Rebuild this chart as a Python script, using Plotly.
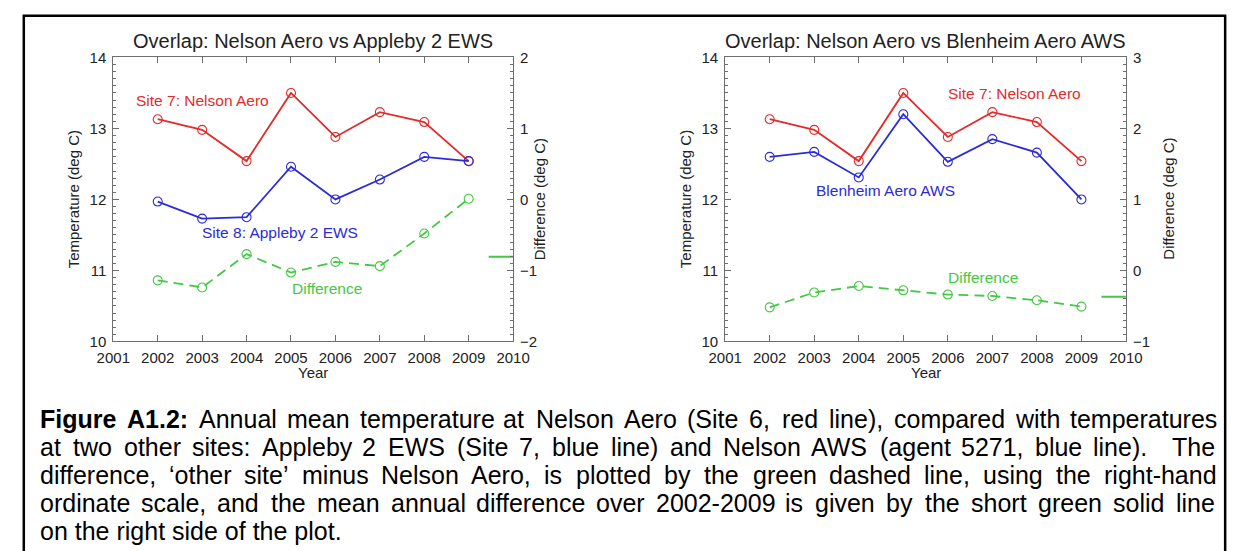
import numpy as np
import plotly.graph_objects as go

# ---------------------------------------------------------------- data
years = [2002, 2003, 2004, 2005, 2006, 2007, 2008, 2009]
year_ticks = list(range(2001, 2011))

nelson_aero = [13.13, 12.98, 12.54, 13.50, 12.88, 13.23, 13.09, 12.54]

appleby_2_ews = [11.97, 11.73, 11.75, 12.46, 12.00, 12.28, 12.60, 12.54]
diff_appleby = [-1.14, -1.24, -0.77, -1.03, -0.88, -0.94, -0.48, 0.01]

blenheim_aero_aws = [12.60, 12.67, 12.31, 13.20, 12.53, 12.85, 12.66, 12.00]
diff_blenheim = [-0.52, -0.31, -0.22, -0.28, -0.34, -0.36, -0.42, -0.51]

temp_range = [10, 14]
diff_range_appleby = [-2, 2]
diff_range_blenheim = [-1, 3]

caption_lines = [
    "Figure A1.2: Annual mean temperature at Nelson Aero (Site 6, red line), compared with temperatures",
    "at two other sites: Appleby 2 EWS (Site 7, blue line) and Nelson AWS (agent 5271, blue line).  The",
    "difference, \u2018other site\u2019 minus Nelson Aero, is plotted by the green dashed line, using the right-hand",
    "ordinate scale, and the mean annual difference over 2002-2009 is given by the short green solid line",
    "on the right side of the plot.",
]
caption_bold_words = 2  # "Figure A1.2:"

# ---------------------------------------------------------------- styling
W, H = 1248, 551
FONT = "Liberation Sans, Arial, Helvetica, sans-serif"
RED = "#e22b2b"
BLUE = "#2b2bd8"
GREEN = "#45c845"
AXIS = "#6e6e6e"
TEXT = "#222222"


def px(x):
    return x / W


def py(y):
    return 1 - y / H


# Arial / Liberation Sans advance widths (1/1000 em) for caption layout
REG = {" ": 278, ",": 278, ".": 278, ":": 278, "(": 333, ")": 333, "-": 333,
       "\u2018": 222, "\u2019": 222}
REG.update({d: 556 for d in "0123456789"})
REG.update(dict(zip("abcdefghijklmnopqrstuvwxyz",
                    [556, 556, 500, 556, 556, 278, 556, 556, 222, 222, 500, 222, 833,
                     556, 556, 556, 556, 333, 500, 278, 556, 500, 722, 500, 500, 500])))
REG.update(dict(zip("ABCDEFGHIJKLMNOPQRSTUVWXYZ",
                    [667, 667, 722, 722, 667, 611, 778, 722, 278, 500, 667, 556, 833,
                     722, 778, 667, 778, 722, 667, 611, 722, 667, 944, 667, 667, 611])))
BOLD = {"F": 611, "i": 278, "g": 611, "u": 611, "r": 389, "e": 556, "A": 722,
        "1": 556, ".": 278, "2": 556, ":": 333, " ": 278}


def text_width(s, size, bold=False):
    table = BOLD if bold else REG
    return sum(table.get(c, 556) for c in s) * size / 1000.0


fig = go.Figure()

marker = dict(symbol="circle-open", size=9, line=dict(width=1.1))

# ---------------------------------------------------------------- left panel
fig.add_trace(go.Scatter(x=years, y=nelson_aero, mode="lines+markers",
                         line=dict(color=RED, width=1.8), marker=dict(color=RED, **marker),
                         xaxis="x", yaxis="y"))
fig.add_trace(go.Scatter(x=years, y=appleby_2_ews, mode="lines+markers",
                         line=dict(color=BLUE, width=1.8), marker=dict(color=BLUE, **marker),
                         xaxis="x", yaxis="y"))
fig.add_trace(go.Scatter(x=years, y=diff_appleby, mode="lines+markers",
                         line=dict(color=GREEN, width=1.8, dash="10px,6px"),
                         marker=dict(color=GREEN, **marker), xaxis="x", yaxis="y2"))
mean_a = float(np.mean(diff_appleby))
fig.add_trace(go.Scatter(x=[2009.45, 2010], y=[mean_a, mean_a], mode="lines",
                         line=dict(color=GREEN, width=2), xaxis="x", yaxis="y2"))

# ---------------------------------------------------------------- right panel
fig.add_trace(go.Scatter(x=years, y=nelson_aero, mode="lines+markers",
                         line=dict(color=RED, width=1.8), marker=dict(color=RED, **marker),
                         xaxis="x2", yaxis="y3"))
fig.add_trace(go.Scatter(x=years, y=blenheim_aero_aws, mode="lines+markers",
                         line=dict(color=BLUE, width=1.8), marker=dict(color=BLUE, **marker),
                         xaxis="x2", yaxis="y3"))
fig.add_trace(go.Scatter(x=years, y=diff_blenheim, mode="lines+markers",
                         line=dict(color=GREEN, width=1.8, dash="10px,6px"),
                         marker=dict(color=GREEN, **marker), xaxis="x2", yaxis="y4"))
mean_b = float(np.mean(diff_blenheim))
fig.add_trace(go.Scatter(x=[2009.45, 2010], y=[mean_b, mean_b], mode="lines",
                         line=dict(color=GREEN, width=2), xaxis="x2", yaxis="y4"))

# ---------------------------------------------------------------- axes
tickfont = dict(family=FONT, size=15, color=TEXT)
plot_top, plot_bottom = 50, 343
panels = [(99, 510), (728, 1140)]


def xaxis_cfg(x0, x1, anchor):
    return dict(domain=[px(x0), px(x1)], range=[2001, 2010], tickvals=year_ticks,
                ticks="inside", ticklen=6, tickcolor=AXIS, tickwidth=1,
                showline=True, linecolor=AXIS, linewidth=1, mirror="ticks",
                showgrid=False, zeroline=False, anchor=anchor, tickfont=tickfont,
                ticklabelstandoff=3)


def yaxis_cfg(rng, anchor, side, overlaying=None):
    cfg = dict(domain=[py(plot_bottom), py(plot_top)], range=rng, dtick=1,
               ticks="inside", ticklen=6, tickcolor=AXIS, tickwidth=1,
               minor=dict(ticks="inside", ticklen=3, dtick=0.1, tickcolor=AXIS,
                          showgrid=False),
               showline=True, linecolor=AXIS, linewidth=1, mirror=False,
               showgrid=False, zeroline=False, anchor=anchor, side=side,
               tickfont=tickfont, ticklabelstandoff=3)
    if overlaying:
        cfg["overlaying"] = overlaying
    return cfg


fig.update_layout(
    xaxis=xaxis_cfg(*panels[0], "y"),
    yaxis=yaxis_cfg(temp_range, "x", "left"),
    yaxis2=yaxis_cfg(diff_range_appleby, "x", "right", "y"),
    xaxis2=xaxis_cfg(*panels[1], "y3"),
    yaxis3=yaxis_cfg(temp_range, "x2", "left"),
    yaxis4=yaxis_cfg(diff_range_blenheim, "x2", "right", "y3"),
)

# ---------------------------------------------------------------- chart text
ann = []


def txt(text, x, y, size=15, color=TEXT, angle=0, xref="paper", yref="paper",
        xanchor="center"):
    ann.append(dict(text=text, x=x, y=y, xref=xref, yref=yref, showarrow=False,
                    xanchor=xanchor, yanchor="middle", textangle=angle, borderpad=0,
                    font=dict(family=FONT, size=size, color=color)))


titles = ["Overlap: Nelson Aero vs Appleby 2 EWS", "Overlap: Nelson Aero vs Blenheim Aero AWS"]
right_title_offset = [28, 44]
for (x0, x1), title, off in zip(panels, titles, right_title_offset):
    txt(title, px((x0 + x1) / 2), py(33), size=20)
    txt("Year", px((x0 + x1) / 2), py(375), size=15)
    txt("Temperature (deg C)", px(x0 - 40), py(196), size=15, angle=-90)
    txt("Difference (deg C)", px(x1 + off), py(196), size=15, angle=-90)

# series labels placed in data coordinates
txt("Site 7: Nelson Aero", 2003.0, 13.39, 15.5, RED, xref="x", yref="y")
txt("Site 8: Appleby 2 EWS", 2004.76, 11.53, 15.5, BLUE, xref="x", yref="y")
txt("Difference", 2005.80, 10.75, 15.5, GREEN, xref="x", yref="y")
txt("Site 7: Nelson Aero", 2007.49, 13.49, 15.5, RED, xref="x2", yref="y3")
txt("Blenheim Aero AWS", 2004.60, 12.12, 15.5, BLUE, xref="x2", yref="y3")
txt("Difference", 2006.80, 10.90, 15.5, GREEN, xref="x2", yref="y3")

# ---------------------------------------------------------------- caption (justified)
cap_size = 25
cap_left, cap_right = 23, 1229
cap_y0, cap_dy = 423.5, 28.7
for i, line in enumerate(caption_lines):
    yc = cap_y0 + i * cap_dy
    words = line.split(" ")
    bold_flags = [i == 0 and k < caption_bold_words for k in range(len(words))]
    if i == len(caption_lines) - 1:
        txt(line, px(cap_left), py(yc), cap_size, "#000000", xanchor="left")
        continue
    widths = [text_width(w, cap_size, b) for w, b in zip(words, bold_flags)]
    gap = (cap_right - cap_left - sum(widths)) / (len(words) - 1)
    cursor = cap_left
    for w, b, wd in zip(words, bold_flags, widths):
        if w:
            label = f"<b>{w}</b>" if b else w
            txt(label, px(cursor), py(yc), cap_size, "#000000", xanchor="left")
        cursor += wd + gap

fig.update_layout(
    annotations=ann,
    shapes=[dict(type="rect", xref="paper", yref="paper",
                 x0=px(7), x1=px(1242), y0=py(570), y1=py(7),
                 line=dict(color="black", width=2.5))],
    width=W, height=H, margin=dict(l=0, r=0, t=0, b=0),
    paper_bgcolor="white", plot_bgcolor="white", showlegend=False,
)

fig.write_html(
    "out.html",
    post_script="document.body.style.margin='0';document.body.style.overflow='hidden';",
)
